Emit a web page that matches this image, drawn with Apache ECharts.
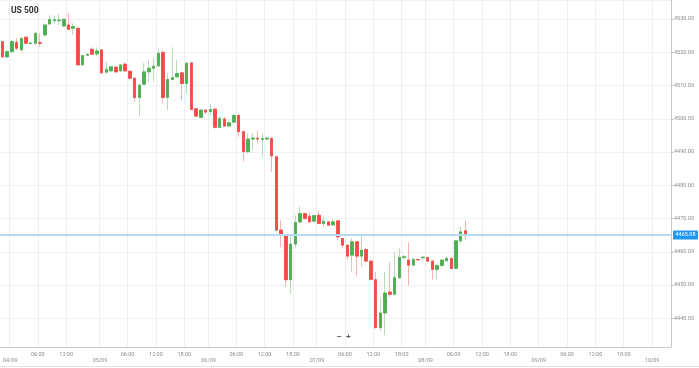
<!DOCTYPE html>
<html><head><meta charset="utf-8">
<script src="https://cdn.jsdelivr.net/npm/echarts@6/dist/echarts.min.js"></script>
<style>html,body{margin:0;padding:0;background:#fff}#c{width:699px;height:368px}</style>
</head><body><div id="c"></div>
<script>
// ---- data ----
const chartTitle = 'US 500';
const sessionDays      = ['01/09','04/09','05/09','06/09','07/09','08/09','09/09','10/09'];
const sessionFirstHour = [21, 0, 0, 0, 0, 0, 0, 0];
const sessionLastHour  = [22, 18, 22, 22, 22, 23, 23, 3];
const labelHours = [6, 12, 18];

const open = [4523.2,4518.6,4520.2,4523.0,4520.7,4524.5,4522.6,4522.7,4522.9,4525.2,
4528.5,4529.5,4529.5,4527.9,4528.2,4527.2,4527.2,4516.2,4519.1,4520.9,
4519.5,4520.7,4514.0,4514.4,4515.5,4514.4,4516.4,4514.3,4512.2,4506.4,
4510.4,4514.1,4515.2,4515.9,4519.9,4506.4,4511.8,4512.6,4513.8,4510.6,
4516.8,4503.0,4500.4,4502.6,4502.2,4502.9,4497.4,4499.9,4497.8,4499.0,
4501.0,4496.1,4490.1,4493.9,4494.2,4493.8,4493.9,4494.1,4488.6,4466.5,
4464.8,4451.6,4462.3,4469.0,4471.5,4470.7,4469.2,4471.0,4468.5,4469.0,
4468.1,4469.3,4464.0,4462.0,4459.0,4463.0,4458.7,4460.7,4457.2,4451.6,
4437.2,4441.6,4447.9,4447.2,4452.2,4458.3,4457.5,4456.0,4457.7,4458.2,
4458.3,4457.2,4454.7,4455.9,4457.3,4458.0,4455.0,4463.3,4466.3];
const close = [4518.6,4520.2,4523.2,4521.2,4524.2,4522.7,4522.8,4525.7,4522.7,4528.2,
4529.9,4529.8,4529.7,4529.9,4526.9,4527.7,4516.2,4519.0,4519.4,4519.4,
4520.4,4513.8,4514.9,4515.6,4514.1,4516.2,4514.4,4512.2,4506.4,4510.1,
4514.1,4515.2,4515.8,4519.7,4506.4,4511.8,4512.4,4513.6,4510.6,4516.7,
4502.8,4500.8,4502.6,4502.0,4502.8,4497.4,4500.1,4497.8,4498.8,4501.0,
4496.1,4490.1,4493.9,4494.2,4493.9,4494.0,4494.2,4488.8,4466.5,4465.0,
4451.6,4462.3,4468.8,4471.5,4470.0,4469.0,4470.9,4468.5,4469.2,4468.0,
4469.0,4464.5,4462.0,4458.7,4463.0,4458.7,4460.5,4457.2,4451.7,4437.2,
4441.6,4447.6,4447.2,4452.2,4458.3,4458.5,4456.0,4457.7,4457.6,4458.4,
4457.2,4454.7,4455.9,4457.5,4458.0,4455.0,4463.3,4466.0,4465.08];
const low = [4518.3,4518.3,4519.7,4520.7,4520.2,4522.4,4522.4,4522.2,4521.7,4524.7,
4528.2,4528.6,4528.2,4527.6,4526.7,4525.2,4516.0,4516.0,4518.9,4519.2,
4518.7,4513.6,4513.6,4514.0,4513.8,4514.0,4514.0,4511.6,4505.1,4500.8,
4510.1,4511.1,4511.1,4515.6,4504.6,4502.6,4511.6,4512.3,4505.6,4507.6,
4502.5,4500.5,4500.2,4501.5,4501.0,4497.0,4497.2,4497.5,4497.5,4498.5,
4494.6,4487.1,4489.6,4490.6,4492.6,4488.5,4493.5,4484.0,4466.2,4461.5,
4449.4,4447.4,4461.0,4468.5,4469.7,4468.7,4468.8,4468.2,4467.5,4467.7,
4467.8,4463.5,4461.0,4457.5,4453.9,4452.9,4455.4,4456.9,4451.4,4436.9,
4436.2,4434.9,4446.4,4446.9,4451.9,4457.6,4449.9,4455.7,4457.4,4457.3,
4456.9,4451.7,4451.6,4455.5,4456.9,4454.8,4454.8,4462.5,4463.5];
const high = [4523.5,4520.5,4523.7,4524.3,4524.5,4524.8,4523.0,4526.1,4525.7,4528.7,
4531.2,4531.0,4531.5,4530.2,4531.7,4528.7,4527.3,4519.2,4519.6,4521.5,
4521.5,4521.0,4517.2,4516.2,4516.0,4516.5,4517.0,4514.5,4512.5,4510.6,
4516.7,4517.7,4518.2,4520.9,4520.7,4513.6,4521.5,4517.7,4514.1,4517.1,
4517.0,4503.2,4503.0,4502.8,4504.6,4503.1,4500.9,4500.6,4499.1,4501.5,
4501.3,4496.4,4495.6,4495.6,4496.4,4495.6,4494.6,4494.6,4488.8,4469.5,
4465.0,4465.0,4471.0,4473.7,4471.8,4472.0,4471.2,4472.3,4470.5,4469.3,
4470.0,4469.5,4464.2,4462.2,4464.1,4463.2,4465.0,4461.0,4457.4,4453.9,
4446.0,4454.0,4456.9,4460.0,4461.0,4459.2,4462.9,4458.1,4457.9,4458.5,
4458.5,4457.4,4456.2,4457.8,4458.6,4458.3,4463.6,4467.5,4469.5];

// ---- build categories (hourly slots) ----
const categories = [];
sessionDays.forEach((d, k) => {
  for (let h = sessionFirstHour[k]; h <= sessionLastHour[k]; h++) {
    categories.push(d + ' ' + String(h).padStart(2, '0') + ':00');
  }
});
const hourOf = s => parseInt(s.slice(6, 8), 10);
const dayOf = s => s.slice(0, 5);
function isDateStart(i) { return i > 0 && hourOf(categories[i]) === 0; }
function isHourLabel(i) {
  const h = hourOf(categories[i]);
  if (labelHours.indexOf(h) < 0) return false;
  for (let j = i + 1; j <= i + 3 && j < categories.length; j++) if (isDateStart(j)) return false;
  return true;
}
const bodyData = open.map((o, i) => [o, close[i], Math.min(o, close[i]), Math.max(o, close[i])]);
const wickData = open.map((o, i) => [o, close[i], low[i], high[i]]);
const lastPrice = close[close.length - 1];

const GREEN = '#4caf50', RED = '#f44a48', GREEN_W = '#b7dcb8', RED_W = '#f6b3b2';
const AX = '#c9c9c9', TXT = '#8c8c8c', FS = 5.5;
const yMin = 4431.37, yMax = 4535.71;
const halfBand = 4.73;

const chart = echarts.init(document.getElementById('c'), null, {renderer: 'canvas'});
chart.setOption({
  animation: false,
  backgroundColor: '#ffffff',
  textStyle: {fontFamily: 'Roboto'},
  title: {text: chartTitle, left: 11, top: 6, padding: 0, textStyle: {fontSize: 8.5, fontWeight: 'bold', color: '#333'}},
  grid: [
    {left: -1, right: 28, top: 0, bottom: 21},
    {left: -1, right: 28, top: 0, bottom: 21}
  ],
  xAxis: [
    {type: 'category', gridIndex: 0, data: categories, boundaryGap: true,
     axisLine: {lineStyle: {color: AX}},
     axisTick: {interval: (i) => isHourLabel(i), length: 2, lineStyle: {color: AX}},
     axisLabel: {interval: (i) => isHourLabel(i), formatter: v => v.slice(6), fontSize: FS, color: TXT, margin: 5, padding: [0, halfBand, 0, 0]},
     splitLine: {show: true, interval: (i) => isHourLabel(i) || isDateStart(i), lineStyle: {color: '#eeeeee'}}},
    {type: 'category', gridIndex: 1, data: categories, boundaryGap: true,
     axisLine: {show: false},
     axisTick: {interval: (i) => isDateStart(i) || i === 2, length: 6, lineStyle: {color: AX}},
     axisLabel: {interval: (i) => isDateStart(i), formatter: v => dayOf(v), fontSize: FS, color: TXT, margin: 11, padding: [0, halfBand, 0, 0]},
     splitLine: {show: false}}
  ],
  yAxis: [
    {type: 'value', gridIndex: 0, position: 'right', min: yMin, max: yMax,
     splitNumber: 10, minInterval: 10, maxInterval: 10, scale: true,
     axisLine: {show: true, lineStyle: {color: AX}},
     axisTick: {show: true, length: 3, lineStyle: {color: AX}},
     axisLabel: {fontSize: FS, color: TXT, margin: 3, formatter: v => v.toFixed(2), showMinLabel: false, showMaxLabel: false},
     splitLine: {lineStyle: {color: '#f0f0f0'}}},
    {type: 'value', gridIndex: 1, position: 'right', min: yMin, max: yMax, show: false}
  ],
  graphic: [
    {type: 'text', left: 337, top: 333, style: {text: '−  +', fontSize: 8, fontWeight: 'bold', fill: '#555'}},
    {type: 'line', silent: true, shape: {x1: 0, y1: 366.5, x2: 699, y2: 366.5}, style: {stroke: '#e2e2e2', lineWidth: 1}}
  ],
  series: [
    {type: 'candlestick', xAxisIndex: 0, yAxisIndex: 0, data: wickData, barWidth: 3, silent: true,
     itemStyle: {color: GREEN_W, color0: RED_W, borderColor: GREEN_W, borderColor0: RED_W, borderWidth: 1}},
    {type: 'candlestick', xAxisIndex: 0, yAxisIndex: 0, data: bodyData, barWidth: 3, silent: true,
     itemStyle: {color: GREEN, color0: RED, borderColor: GREEN, borderColor0: RED, borderWidth: 0.8},
     markLine: {silent: true, symbol: ['none', 'none'], animation: false,
       lineStyle: {color: '#b5daf6', width: 2, type: 'solid', opacity: 1},
       label: {show: true, position: 'end', distance: 2, formatter: p => p.value.toFixed(2), color: '#fff',
               backgroundColor: '#2196f3', fontSize: FS, padding: [1.5, 2.5], borderRadius: 1},
       emphasis: {disabled: true},
       data: [{yAxis: lastPrice}]}}
  ]
});
</script></body></html>
